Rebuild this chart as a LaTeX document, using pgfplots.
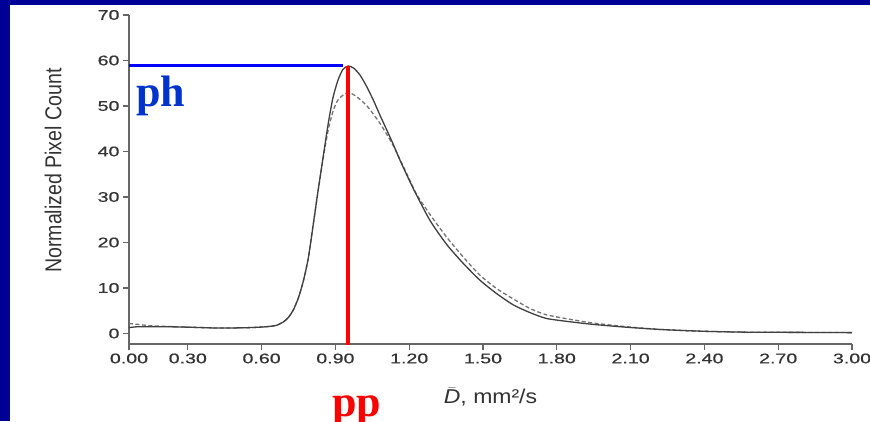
\documentclass[border=0pt]{standalone}
\usepackage{fontspec}
\usepackage{pgfplots}
\pgfplotsset{compat=1.18}
\setmainfont{Liberation Sans}
\newfontfamily\tickfont[FakeStretch=1.4,FakeBold=0.5]{Liberation Sans}
\newfontfamily\ylabfont[FakeStretch=0.85]{Liberation Sans}
\newfontfamily\xlabfont[FakeStretch=1.15]{Liberation Sans}
\newfontfamily\notefont{Liberation Serif}
\definecolor{frame}{RGB}{0,0,150}
\definecolor{phblue}{RGB}{0,51,204}

% solid curve
\pgfplotstableread{
x y
0.061 1.3
0.10 1.5
0.20 1.5
0.30 1.4
0.43 1.2
0.55 1.3
0.62 1.5
0.66 1.8
0.69 2.6
0.71 3.6
0.73 5.3
0.75 7.9
0.77 11.6
0.79 16.6
0.81 24.0
0.83 31.5
0.851 39.1
0.871 46.2
0.89 51.8
0.91 55.6
0.93 58.0
0.952 58.8
0.975 58.3
1.00 56.8
1.027 54.3
1.055 51.2
1.081 48.0
1.11 44.6
1.135 41.6
1.165 37.8
1.217 31.8
1.284 24.9
1.352 19.6
1.42 15.4
1.488 11.7
1.555 8.8
1.623 6.3
1.691 4.6
1.759 3.3
1.867 2.5
1.95 2.0
2.08 1.4
2.219 0.9
2.395 0.5
2.571 0.3
2.8 0.25
3.0 0.2
}\solid

% dashed curve
\pgfplotstableread{
x y
0.061 2.2
0.10 2.0
0.15 1.7
0.25 1.5
0.43 1.2
0.55 1.3
0.62 1.5
0.66 1.8
0.69 2.6
0.71 3.6
0.73 5.3
0.75 7.9
0.77 11.6
0.79 16.6
0.81 24.0
0.83 31.5
0.851 38.8
0.871 44.8
0.89 48.8
0.91 51.3
0.939 52.7
0.96 52.8
0.98 52.3
1.027 50.1
1.081 46.2
1.135 41.3
1.20 34.0
1.23 30.6
1.284 26.2
1.352 21.2
1.42 16.8
1.488 12.8
1.555 9.9
1.623 7.6
1.691 5.5
1.759 4.1
1.867 3.0
1.948 2.3
2.084 1.5
2.219 0.9
2.395 0.5
2.571 0.3
2.8 0.25
3.0 0.2
}\dashedc

\begin{document}
\begin{tikzpicture}[x=1pt,y=1pt]
\useasboundingbox (0,0) rectangle (870,421);
\clip (0,0) rectangle (870,421);
\fill[frame] (0,0) rectangle (870,421);
\fill[white] (10,0) rectangle (870,416);

\begin{axis}[
  at={(129pt,77pt)}, anchor=south west,
  scale only axis, width=723pt, height=329pt,
  xmin=0.061, xmax=3.0, ymin=-2.3, ymax=70,
  axis lines*=left,
  clip=false,
  tick align=outside, major tick length=6pt,
  xtick={0.061,0.3,0.6,0.9,1.2,1.5,1.8,2.1,2.4,2.7,3.0},
  xticklabels={0.00,0.30,0.60,0.90,1.20,1.50,1.80,2.10,2.40,2.70,3.00},
  ytick={0,10,...,70},
  axis line style={black!60, line width=1.2pt},
  tick style={black!60, line width=1.2pt},
  /pgf/number format/assume math mode=true,
  tick label style={font=\tickfont\fontsize{14}{16}\selectfont, text=black!80},
  xlabel={$\bar{\mbox{\itshape D}}$, mm²/s},
  ylabel={Normalized Pixel Count},
  every axis x label/.style={at={(axis description cs:0.5,-0.161)}, anchor=center,
    font=\xlabfont\fontsize{20}{22}\selectfont, text=black!80},
  every axis y label/.style={at={(axis description cs:-0.105,0.527)}, anchor=center, rotate=90,
    font=\ylabfont\fontsize{23}{25}\selectfont, text=black!80},
]
\addplot[black!55, line width=1.3pt, dash pattern=on 4pt off 2.5pt, smooth, tension=0.4] table {\dashedc};
\addplot[black!75, line width=1.3pt, smooth, tension=0.4] table {\solid};
\addplot[blue, line width=3.5pt] coordinates {(0.061,58.9) (0.93,58.9)};
\addplot[red, line width=4pt] coordinates {(0.952,-2.6) (0.952,58.7)};
\end{axis}

\node[anchor=base west, inner sep=0pt, text=phblue, font=\notefont\bfseries\fontsize{44}{48}\selectfont] at (136,314) {ph};
\node[anchor=base west, inner sep=0pt, text=red, font=\notefont\bfseries\fontsize{44}{48}\selectfont] at (332,4.3) {pp};
\end{tikzpicture}
\end{document}
